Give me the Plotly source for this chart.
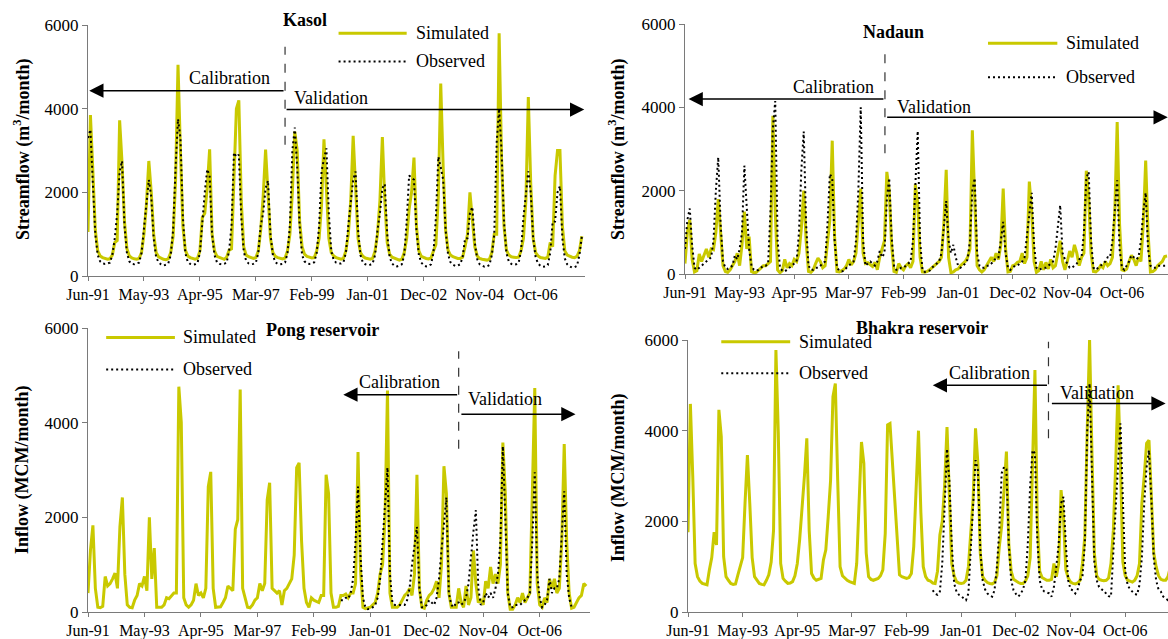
import plotly.graph_objects as go
import pandas as pd

# ---------------- data ----------------
months = pd.period_range("1991-06", periods=204, freq="M").strftime("%b-%y").tolist()
tick_labels = ["Jun-91", "May-93", "Apr-95", "Mar-97", "Feb-99", "Jan-01", "Dec-02", "Nov-04", "Oct-06"]

kasol_sim = [
    1050, 3850, 2500, 1100, 600, 480, 440, 420, 400, 410, 500, 800,
    850, 3720, 2700, 1300, 650, 480, 430, 410, 400, 420, 560, 1000,
    1700, 2750, 2000, 1000, 560, 460, 420, 400, 390, 410, 560, 950,
    2300, 5050, 3000, 1200, 620, 480, 440, 420, 400, 420, 600, 1400,
    1500, 2100, 3030, 1000, 600, 470, 440, 420, 400, 450, 620, 650,
    2600, 4000, 4200, 1800, 700, 500, 460, 440, 420, 440, 600, 1100,
    1900, 3020, 2000, 900, 560, 470, 440, 420, 410, 430, 600, 1000,
    2000, 3450, 3000, 1300, 700, 520, 470, 450, 430, 440, 600, 900,
    1700, 3270, 2000, 900, 560, 480, 440, 420, 400, 420, 600, 1000,
    1800, 3350, 2100, 900, 560, 470, 430, 410, 400, 420, 600, 1000,
    1800, 3320, 1800, 800, 520, 450, 420, 400, 380, 400, 560, 900,
    1600, 2000, 2830, 1200, 600, 470, 440, 420, 410, 430, 600, 750,
    1900, 4600, 2600, 1100, 620, 500, 460, 440, 420, 420, 450, 700,
    1000, 2000, 1400, 700, 480, 420, 400, 390, 380, 400, 560, 1000,
    1000, 5800, 2800, 1200, 620, 500, 460, 450, 440, 450, 600, 900,
    1800, 4280, 2200, 900, 560, 480, 440, 430, 420, 450, 800, 700,
    2400, 3000, 3000, 1200, 600, 500, 470, 450, 440, 470, 600, 950,
]
kasol_obs = [
    3300, 3500, 2200, 1000, 500, 350, 300, 290, 300, 320, 500, 900,
    1500, 2500, 2750, 1200, 550, 350, 290, 280, 300, 320, 550, 1100,
    1700, 2300, 1900, 900, 450, 330, 280, 250, 270, 300, 500, 1100,
    2600, 3750, 3300, 1400, 550, 340, 290, 270, 280, 310, 550, 1300,
    2000, 2550, 2400, 1000, 500, 330, 290, 280, 290, 320, 600, 1200,
    2950, 2850, 2900, 1400, 600, 360, 300, 280, 290, 320, 550, 1200,
    1500, 2100, 2280, 1000, 500, 330, 290, 280, 290, 320, 550, 1200,
    3000, 3550, 2600, 1200, 500, 350, 300, 290, 300, 330, 550, 1200,
    2500, 2800, 3050, 1500, 600, 380, 320, 300, 300, 330, 550, 1200,
    1800, 2300, 2500, 1100, 500, 320, 280, 260, 270, 300, 500, 1100,
    1500, 2100, 2200, 1000, 450, 300, 240, 230, 250, 280, 500, 1300,
    2400, 2350, 2300, 1100, 500, 320, 260, 230, 240, 280, 550, 1400,
    2850, 2600, 2300, 1100, 520, 330, 270, 240, 250, 280, 450, 900,
    900, 1500, 1650, 800, 400, 280, 240, 220, 230, 260, 500, 1000,
    3200, 4000, 3000, 1300, 550, 340, 290, 270, 280, 310, 600, 1400,
    1950, 2500, 2000, 900, 450, 300, 240, 220, 230, 260, 550, 1300,
    1300, 2000, 2150, 900, 420, 280, 230, 200, 210, 240, 500, 950,
]

nadaun_sim = [
    250, 1000, 1300, 350, 50, 80, 480, 300, 450, 600, 400, 600,
    580, 1000, 1800, 900, 200, 60, 40, 100, 200, 300, 500, 200,
    700, 1500, 600, 900, 60, 30, 40, 100, 150, 200, 200, 250,
    300, 3800, 1500, 100, 30, 80, 350, 150, 250, 200, 350, 300,
    500, 1100, 2000, 800, 60, 40, 100, 250, 380, 300, 150, 200,
    800, 1300, 3200, 900, 60, 50, 80, 120, 200, 350, 220, 300,
    500, 1300, 2050, 500, 250, 270, 220, 180, 280, 100, 400, 600,
    800, 2450, 2000, 700, 60, 40, 250, 150, 100, 200, 250, 150,
    300, 2150, 1700, 400, 50, 40, 60, 100, 150, 200, 250, 300,
    400, 1200, 2500, 400, 30, 50, 100, 120, 200, 250, 300, 400,
    600, 3450, 1600, 200, 100, 50, 100, 200, 300, 400, 300, 500,
    350, 700, 2050, 600, 50, 60, 200, 220, 280, 300, 500, 250,
    400, 2220, 1500, 300, 40, 80, 300, 100, 280, 120, 350, 150,
    200, 500, 800, 300, 100, 300, 550, 400, 700, 500, 200, 400,
    500, 2480, 1800, 500, 60, 50, 100, 200, 150, 300, 200, 250,
    400, 1500, 3650, 1200, 100, 80, 120, 300, 450, 350, 200, 400,
    300, 1200, 2720, 1000, 50, 60, 100, 200, 250, 300, 420, 430,
]
nadaun_obs = [
    600, 1300, 1570, 700, 150, 100, 150, 200, 250, 300, 350, 400,
    800, 2000, 2800, 1200, 300, 150, 120, 150, 200, 450, 350, 600,
    1000, 2600, 1500, 600, 200, 100, 80, 100, 150, 200, 200, 250,
    1500, 3500, 4150, 800, 150, 80, 60, 100, 150, 200, 250, 300,
    1000, 2500, 3420, 1200, 200, 100, 100, 150, 150, 200, 250, 300,
    1200, 2400, 2300, 800, 150, 80, 60, 80, 150, 200, 250, 300,
    800, 2000, 4000, 800, 200, 250, 300, 250, 200, 300, 550, 400,
    500, 1800, 2300, 900, 200, 100, 100, 150, 150, 200, 250, 300,
    800, 2000, 3430, 800, 100, 50, 60, 80, 150, 200, 250, 300,
    500, 1200, 1750, 800, 500, 700, 400, 200, 150, 200, 250, 350,
    800, 2000, 2300, 500, 200, 150, 150, 200, 200, 250, 300, 400,
    400, 800, 1250, 500, 150, 100, 150, 200, 200, 250, 300, 400,
    900, 1500, 1950, 700, 150, 100, 120, 150, 150, 200, 250, 300,
    600, 1200, 1650, 500, 350, 250, 150, 150, 200, 250, 350, 400,
    1000, 2300, 2450, 800, 150, 100, 150, 200, 250, 300, 400, 400,
    800, 1500, 2250, 600, 150, 100, 200, 300, 450, 400, 350, 400,
    800, 1500, 1950, 600, 200, 150, 150, 200, 200, 200, 200, 200,
]

pong_sim = [
    400, 1300, 1830, 500, 100, 90, 120, 750, 550, 600, 700, 820,
    500, 1800, 2420, 800, 150, 100, 90, 250, 350, 600, 550, 750,
    450, 2000, 700, 1350, 100, 100, 100, 150, 300, 280, 350, 400,
    400, 4760, 4000, 300, 150, 100, 150, 250, 600, 350, 400, 300,
    500, 2650, 2960, 500, 100, 100, 110, 200, 300, 550, 500, 450,
    1750, 1950, 4700, 500, 300, 100, 90, 150, 250, 300, 600, 450,
    600, 2370, 2730, 500, 450, 400, 450, 150, 450, 500, 600, 700,
    1200, 3050, 3150, 1500, 500, 200, 100, 300, 250, 220, 200, 350,
    350, 2900, 2500, 400, 100, 100, 120, 350, 350, 380, 300, 400,
    400, 600, 3380, 900, 100, 70, 80, 100, 150, 200, 400, 800,
    1000, 2000, 4680, 400, 100, 100, 100, 150, 250, 350, 400, 500,
    350, 800, 2900, 500, 100, 80, 250, 350, 400, 500, 650, 300,
    1000, 3080, 2500, 400, 100, 100, 100, 500, 200, 100, 550, 150,
    300, 1300, 600, 200, 250, 150, 650, 500, 950, 600, 800, 600,
    1000, 3580, 2500, 400, 60, 60, 150, 300, 200, 400, 200, 300,
    400, 2500, 4730, 600, 150, 100, 300, 200, 700, 500, 700, 400,
    500, 1500, 3550, 1500, 400, 80, 100, 200, 300, 350, 600, 550,
]
pong_obs = [None] * 103 + [
    250, 250, 300, 280, 400,
    700, 1500, 2650, 1200, 300, 100, 60, 80, 100, 150, 300, 700,
    1500, 2400, 3050, 800, 200, 150, 150, 150, 150, 150, 250, 500,
    1000, 1400, 1800, 500, 100, 100, 150, 250, 200, 150, 300, 700,
    1300, 1800, 2420, 400, 150, 100, 200, 200, 150, 200, 300, 600,
    1200, 1700, 2150, 500, 150, 200, 400, 300, 400, 300, 500, 800,
    1500, 3500, 2000, 400, 100, 100, 150, 150, 150, 200, 250, 300,
    400, 1500, 2950, 800, 300, 100, 150, 250, 700, 400, 500, 500,
    700, 1700, 2550, 800, 300, 100,
] + [None] * 6

bhakra_sim = [
    1760, 4590, 3000, 1070, 780, 680, 630, 610, 600, 930, 1200, 1760,
    1480, 4460, 3870, 1220, 780, 700, 630, 610, 620, 820, 1000, 1200,
    2400, 3460, 2400, 1200, 780, 700, 630, 610, 600, 700, 820, 1100,
    1800, 5780, 3940, 1070, 740, 680, 630, 640, 670, 800, 1070, 1600,
    2250, 3000, 3830, 1800, 850, 750, 700, 720, 740, 1150, 1370, 2100,
    2900, 4750, 5040, 2900, 1000, 800, 740, 700, 670, 650, 630, 1070,
    2500, 3750, 3280, 1300, 780, 720, 700, 720, 740, 800, 930, 1730,
    4130, 4160, 3300, 2540, 1440, 820, 780, 760, 740, 760, 850, 1440,
    2900, 4000, 2200, 1000, 780, 700, 680, 640, 630, 900, 1700, 2000,
    2800, 4080, 2540, 1070, 800, 670, 640, 630, 640, 700, 1000, 1750,
    2500, 4050, 3280, 1300, 780, 700, 650, 630, 620, 650, 800, 1440,
    1900, 2690, 3540, 1500, 900, 720, 680, 650, 630, 630, 680, 800,
    1200, 3130, 5340, 2000, 900, 760, 720, 700, 700, 720, 1070, 780,
    1070, 2690, 2100, 930, 750, 660, 630, 620, 640, 700, 1070, 1660,
    4000, 6000, 3500, 1300, 800, 720, 700, 690, 700, 750, 1070, 1800,
    3280, 5000, 3280, 1100, 800, 700, 680, 660, 700, 800, 1070, 2400,
    3000, 3720, 3790, 2540, 1300, 1000, 800, 720, 700, 700, 780, 1000,
]
bhakra_obs = [None] * 103 + [
    480, 400, 380, 450, 1070,
    2540, 3600, 2900, 1500, 630, 450, 380, 350, 300, 260, 410, 1440,
    2540, 3350, 3130, 1400, 700, 500, 410, 360, 340, 480, 1000, 1800,
    3060, 3200, 3150, 1500, 700, 480, 400, 340, 400, 500, 700, 1500,
    2800, 3570, 3500, 1600, 700, 500, 450, 430, 410, 340, 560, 1000,
    1500, 2400, 2540, 1500, 700, 500, 480, 410, 500, 700, 780, 1500,
    4000, 5040, 3000, 1100, 700, 550, 500, 480, 400, 350, 340, 1500,
    2300, 3280, 4160, 2500, 900, 600, 500, 450, 400, 380, 600, 1200,
    2400, 3200, 3570, 2500, 1200, 700, 500, 450, 340, 300, 260, 300,
]

# ---------------- styling ----------------
FONT = "Liberation Serif, Times New Roman, serif"
SIM_COLOR = "#C9C900"
OBS_DASH = "2px,3px"
W, H = 1168, 639

x_idx = list(range(len(months)))
tick_pos = [months.index(t) for t in tick_labels]

fig = go.Figure()

panels = [
    dict(sim=kasol_sim, obs=kasol_obs, xd=(88, 585), yd=(25, 276), xmax=204.3,
         ytitle="Streamflow (m<sup>3</sup>/month)", tpos=(22, 150)),
    dict(sim=nadaun_sim, obs=nadaun_obs, xd=(685, 1168), yd=(24, 274), xmax=203.4,
         ytitle="Streamflow (m<sup>3</sup>/month)", tpos=(617, 150)),
    dict(sim=pong_sim, obs=pong_obs, xd=(88, 590), yd=(328, 612), xmax=204.5,
         ytitle="Inflow (MCM/month)", tpos=(22, 470)),
    dict(sim=bhakra_sim, obs=bhakra_obs, xd=(688, 1168), yd=(340, 612), xmax=202.0,
         ytitle="Inflow (MCM/month)", tpos=(618, 477)),
]

annotations = []
shapes = []

layout_axes = {}
for i, p in enumerate(panels, start=1):
    xa = "x" if i == 1 else f"x{i}"
    ya = "y" if i == 1 else f"y{i}"
    fig.add_trace(go.Scatter(x=x_idx, y=p["sim"], mode="lines", xaxis=xa, yaxis=ya,
                             line=dict(color=SIM_COLOR, width=3), showlegend=False,
                             connectgaps=False))
    fig.add_trace(go.Scatter(x=x_idx, y=p["obs"], mode="lines", xaxis=xa, yaxis=ya,
                             line=dict(color="black", width=2, dash=OBS_DASH), showlegend=False,
                             connectgaps=False))
    xkey = "xaxis" if i == 1 else f"xaxis{i}"
    ykey = "yaxis" if i == 1 else f"yaxis{i}"
    layout_axes[xkey] = dict(
        domain=[p["xd"][0] / W, p["xd"][1] / W], anchor=ya, range=[0, p["xmax"]],
        tickmode="array", tickvals=tick_pos, ticktext=tick_labels, automargin=False,
        showline=True, linecolor="#7a7a7a", linewidth=1, ticks="outside", ticklen=4,
        tickcolor="#7a7a7a", showgrid=False, zeroline=False,
        tickfont=dict(family=FONT, size=16, color="black"),
    )
    layout_axes[ykey] = dict(
        domain=[1 - p["yd"][1] / H, 1 - p["yd"][0] / H], anchor=xa, range=[0, 6000],
        tickvals=[0, 2000, 4000, 6000], showline=True, linecolor="#7a7a7a", linewidth=1,
        ticks="outside", ticklen=5, tickcolor="#7a7a7a", showgrid=False, zeroline=False,
        automargin=False, tickfont=dict(family=FONT, size=17, color="black"),
    )
    annotations.append(dict(text=f"<b>{p['ytitle']}</b>", x=p["tpos"][0] / W,
                            y=1 - p["tpos"][1] / H, xref="paper", yref="paper",
                            textangle=-90, showarrow=False, xanchor="center", yanchor="middle",
                            font=dict(family=FONT, size=18, color="black")))

fig.update_layout(**layout_axes)


def txt(text, x, y, xr, yr, bold=False, xanchor="center"):
    annotations.append(dict(text=f"<b>{text}</b>" if bold else text, x=x, y=y, xref=xr, yref=yr,
                            showarrow=False, xanchor=xanchor, yanchor="middle",
                            font=dict(family=FONT, size=18, color="black")))


def arrow(x_head, x_tail, y, xr, yr):
    annotations.append(dict(text="", x=x_head, y=y, ax=x_tail, ay=y, xref=xr, yref=yr,
                            axref=xr, ayref=yr, showarrow=True, arrowhead=2, arrowsize=1.9,
                            arrowwidth=1.5, arrowcolor="black"))


def divider(x, y0, y1, xr, yr):
    shapes.append(dict(type="line", x0=x, x1=x, y0=y0, y1=y1, xref=xr, yref=yr,
                       line=dict(color="#333333", width=1.2, dash="dash")))


def legend(x0, x1, xt, ys, yo, xr, yr):
    shapes.append(dict(type="line", x0=x0, x1=x1, y0=ys, y1=ys, xref=xr, yref=yr,
                       line=dict(color=SIM_COLOR, width=3)))
    shapes.append(dict(type="line", x0=x0, x1=x1, y0=yo, y1=yo, xref=xr, yref=yr,
                       line=dict(color="black", width=2, dash=OBS_DASH)))
    txt("Simulated", xt, ys, xr, yr, xanchor="left")
    txt("Observed", xt, yo, xr, yr, xanchor="left")


# Kasol
txt("Kasol", 305 / W, 1 - 20 / H, "paper", "paper", bold=True)
divider(81, 3140, 5480, "x", "y")
arrow(0.5, 81, 4430, "x", "y")
arrow(204, 81, 3980, "x", "y")
txt("Calibration", 58, 4730, "x", "y")
txt("Validation", 100, 4250, "x", "y")
legend(103, 131, 134, 5800, 5130, "x", "y")

# Nadaun
txt("Nadaun", 87.6, 5810, "x2", "y2", bold=True)
divider(84.2, 2900, 5280, "x2", "y2")
arrow(1.5, 84.2, 4200, "x2", "y2")
arrow(203.3, 84.5, 3760, "x2", "y2")
txt("Calibration", 62.6, 4500, "x2", "y2")
txt("Validation", 105, 4020, "x2", "y2")
legend(127.6, 156.8, 159.5, 5540, 4720, "x2", "y2")

# Pong
txt("Pong reservoir", 95.5, 5965, "x3", "y3", bold=True)
divider(151, 3450, 5510, "x3", "y3")
arrow(104, 151, 4590, "x3", "y3")
arrow(198.6, 151.5, 4180, "x3", "y3")
txt("Calibration", 127, 4860, "x3", "y3")
txt("Validation", 170, 4500, "x3", "y3")
legend(7.4, 35.4, 38, 5800, 5125, "x3", "y3")

# Bhakra
txt("Bhakra reservoir", 922 / W, 1 - 328 / H, "paper", "paper", bold=True)
divider(151.7, 3830, 5960, "x4", "y4")
arrow(103, 151.7, 5000, "x4", "y4")
arrow(201, 152.5, 4600, "x4", "y4")
txt("Calibration", 127, 5280, "x4", "y4")
txt("Validation", 172, 4840, "x4", "y4")
legend(14, 43, 45.8, 5960, 5265, "x4", "y4")

fig.update_layout(
    width=W, height=H, margin=dict(l=0, r=0, t=0, b=0),
    paper_bgcolor="white", plot_bgcolor="white",
    showlegend=False, annotations=annotations, shapes=shapes,
    font=dict(family=FONT, color="black"),
)

fig.write_html("out.html")
